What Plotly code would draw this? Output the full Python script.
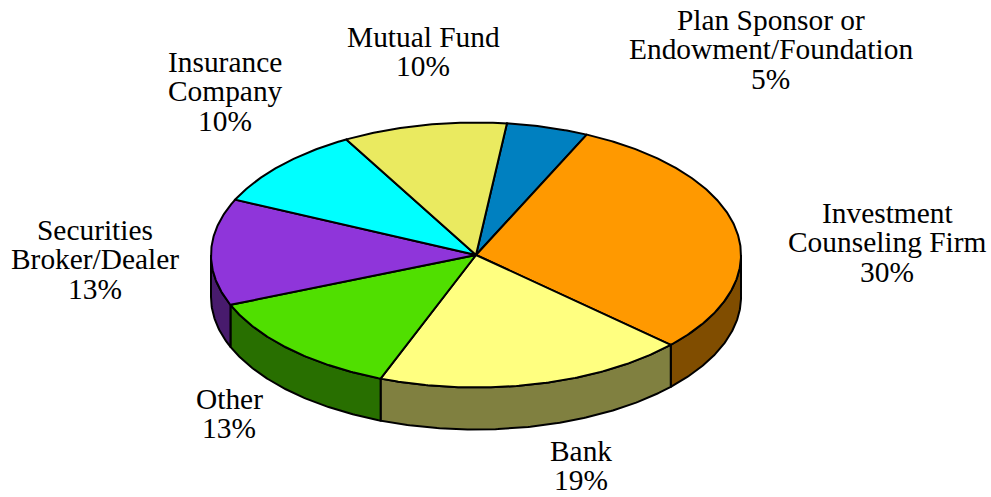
import numpy as np
import plotly.graph_objects as go

categories = ["Plan Sponsor or\nEndowment/Foundation", "Investment\nCounseling Firm", "Bank", "Other",
              "Securities\nBroker/Dealer", "Insurance\nCompany", "Mutual Fund"]
shares = [5, 30, 19, 13, 13, 10, 10]
top_colors = ["#0080C0", "#FF9900", "#FFFF80", "#50DF00", "#8F35DA", "#00FFFF", "#EAEA60"]
side_colors = ["#004060", "#804D00", "#808040", "#286F00", "#481B6D", "#008080", "#757530"]
label_centers = [(770.5, 19.5), (887, 212.5), (581, 450.5), (229, 398.5), (95, 229.5), (225, 61.5), (423, 36.5)]

CX, CY, RX, RY, DEPTH, START = 476, 255, 265, 132.5, 42, 6.7
LINE_GAP = 29.5
FONT = dict(family="Liberation Serif", size=29.4, color="black")
LW = 2

def arc(a0, a1, dy=0):
    t = np.radians(np.linspace(a0, a1, max(int(abs(a1 - a0) * 2), 2)))
    return CX + RX * np.sin(t), CY - RY * np.cos(t) + dy

fig = go.Figure()
edges = START + np.cumsum([0] + shares) * 3.6

# side walls: visible only on the front half of the ellipse (90..270 degrees)
for i in range(len(shares)):
    a0, a1 = max(edges[i], 90), min(edges[i + 1], 270)
    if a1 <= a0:
        continue
    x0, y0 = arc(a0, a1)
    x1, y1 = arc(a1, a0, DEPTH)
    fig.add_trace(go.Scatter(x=np.r_[x0, x1, x0[0]], y=np.r_[y0, y1, y0[0]], mode="lines", fill="toself",
                             fillcolor=side_colors[i], line=dict(color="black", width=LW), hoverinfo="skip"))

# top faces
for i in range(len(shares)):
    x0, y0 = arc(edges[i], edges[i + 1])
    fig.add_trace(go.Scatter(x=np.r_[CX, x0, CX], y=np.r_[CY, y0, CY], mode="lines", fill="toself",
                             fillcolor=top_colors[i], line=dict(color="black", width=LW), hoverinfo="skip"))

# labels
for cat, share, (lx, ly) in zip(categories, shares, label_centers):
    for j, line in enumerate(cat.split("\n") + [f"{share}%"]):
        fig.add_annotation(x=lx, y=ly + j * LINE_GAP, text=line, showarrow=False, font=FONT,
                           xanchor="center", yanchor="middle")

fig.update_layout(width=991, height=497, margin=dict(l=0, r=0, t=0, b=0), showlegend=False,
                  paper_bgcolor="white", plot_bgcolor="white",
                  xaxis=dict(range=[0, 991], visible=False, fixedrange=True),
                  yaxis=dict(range=[497, 0], visible=False, fixedrange=True))
fig.write_html("out.html", config=dict(displayModeBar=False),
               post_script="document.body.style.margin='0';document.body.style.overflow='hidden';")
